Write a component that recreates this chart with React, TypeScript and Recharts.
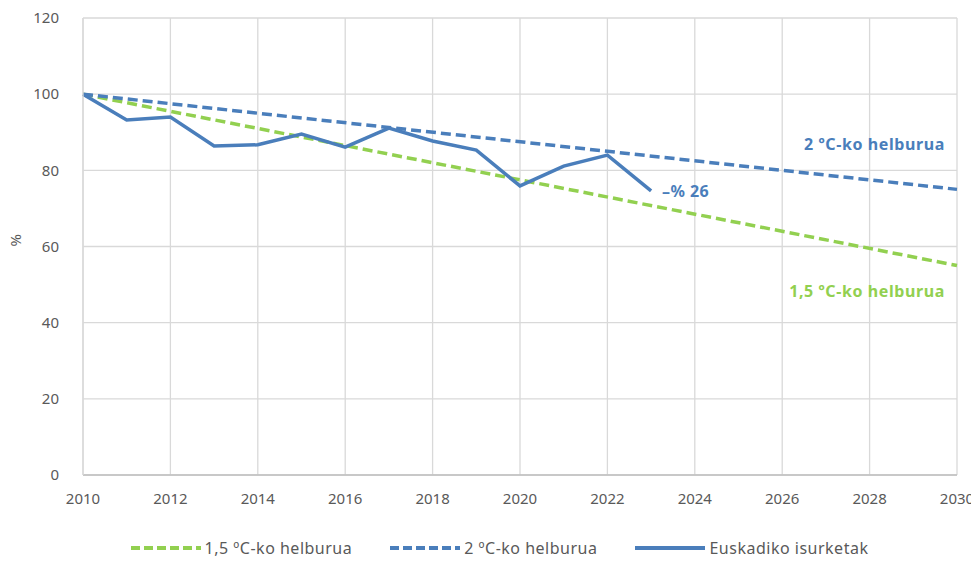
import { LineChart, Line, XAxis, YAxis, CartesianGrid, LabelList } from 'recharts'

const years = [2010, 2011, 2012, 2013, 2014, 2015, 2016, 2017, 2018, 2019, 2020, 2021, 2022, 2023]
const emissions = [100, 93.2, 94.0, 86.4, 86.7, 89.5, 86.1, 91.1, 87.7, 85.3, 75.9, 81.1, 84.0, 74.6]

const goalYears = [2010, 2030]
const goal15 = [100, 55]
const goal2 = [100, 75]

const xTicks = [2010, 2012, 2014, 2016, 2018, 2020, 2022, 2024, 2026, 2028, 2030]
const yTicks = [0, 20, 40, 60, 80, 100, 120]

const BLUE = '#4a7ebb'
const GREEN = '#92d050'
const FONT = '"Noto Sans", sans-serif'

const emissionsData = years.map((year, i) => ({ year, value: emissions[i] }))
const goal15Data = goalYears.map((year, i) => ({ year, value: goal15[i] }))
const goal2Data = goalYears.map((year, i) => ({ year, value: goal2[i] }))

const legendItems = [
  { label: '1,5 ºC-ko helburua', color: GREEN, dash: '9 4' },
  { label: '2 ºC-ko helburua', color: BLUE, dash: '9 4' },
  { label: 'Euskadiko isurketak', color: BLUE, dash: undefined },
]

function ChartLegend() {
  return (
    <div style={{ position: 'absolute', left: 0, width: 979, top: 537, display: 'flex', justifyContent: 'center', gap: 36, paddingLeft: 18, boxSizing: 'border-box', fontFamily: FONT, fontSize: 16, letterSpacing: 0.5, color: '#595959', lineHeight: '22px' }}>
      {legendItems.map((it) => (
        <div key={it.label} style={{ display: 'flex', alignItems: 'center' }}>
          <svg width={74} height={10} style={{ marginRight: 2 }}>
            <line x1={2} y1={5} x2={72} y2={5} stroke={it.color} strokeWidth={4} strokeDasharray={it.dash} />
          </svg>
          <span>{it.label}</span>
        </div>
      ))}
    </div>
  )
}

const lastLabel = (props: any) => {
  const { x, y, index } = props
  if (index !== years.length - 1) return null
  return (
    <text x={x + 11} y={y + 6} fill={BLUE} fontSize={16} fontWeight={700} letterSpacing={0.4} fontFamily={FONT}>
      –% 26
    </text>
  )
}

const annoStyle = { position: 'absolute' as const, right: 34, fontFamily: FONT, fontSize: 16, fontWeight: 700, letterSpacing: 0.6 }

export default function App() {
  return (
    <div style={{ margin: '-8px 0 0 -8px', position: 'relative', width: 979, height: 561, background: '#fff' }}>
      <LineChart width={979} height={561} margin={{ top: 18, right: 22, left: 0, bottom: 41 }}>
        <CartesianGrid stroke="#d9d9d9" strokeWidth={1.3} />
        <XAxis
          dataKey="year"
          type="number"
          domain={[2010, 2030]}
          ticks={xTicks}
          allowDuplicatedCategory={false}
          height={45}
          tickLine={false}
          axisLine={{ stroke: '#bfbfbf', strokeWidth: 1.5 }}
          tick={{ fill: '#595959', fontSize: 15, fontFamily: FONT }}
          tickMargin={12}
        />
        <YAxis
          type="number"
          domain={[0, 120]}
          ticks={yTicks}
          width={83}
          tickLine={false}
          axisLine={{ stroke: '#d9d9d9', strokeWidth: 1.3 }}
          tick={{ fill: '#595959', fontSize: 15, fontFamily: FONT }}
          tickMargin={18}
          label={{ value: '%', angle: -90, position: 'insideLeft', offset: 16, fill: '#595959', fontSize: 15, fontFamily: FONT }}
        />
        <Line data={goal15Data} dataKey="value" name="1,5 ºC-ko helburua" stroke={GREEN} strokeWidth={3.5} strokeDasharray="10 5" dot={false} isAnimationActive={false} />
        <Line data={goal2Data} dataKey="value" name="2 ºC-ko helburua" stroke={BLUE} strokeWidth={3.5} strokeDasharray="10 5" dot={false} isAnimationActive={false} />
        <Line data={emissionsData} dataKey="value" name="Euskadiko isurketak" stroke={BLUE} strokeWidth={3.5} dot={false} isAnimationActive={false}>
          <LabelList dataKey="value" content={lastLabel} />
        </Line>
      </LineChart>
      <ChartLegend />
      <div style={{ ...annoStyle, top: 133, color: BLUE }}>2 ºC-ko helburua</div>
      <div style={{ ...annoStyle, top: 280, color: GREEN }}>1,5 ºC-ko helburua</div>
    </div>
  )
}
